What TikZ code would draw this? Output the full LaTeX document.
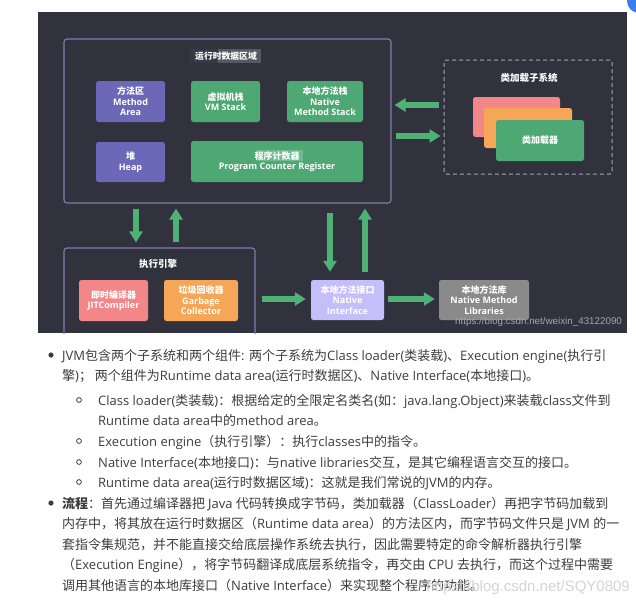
\documentclass[tikz,border=0pt]{standalone}
\usepackage{fontspec}
\setmainfont{Open Sans}
\newfontfamily\cjkf{Noto Sans CJK SC}
\newfontfamily\latf{Open Sans}
\newfontfamily\wmf{Liberation Sans}
\usetikzlibrary{arrows.meta}
\XeTeXinterchartokenstate=1
\newXeTeXintercharclass\myCJK
\newcount\mycnt
\def\setcjkrange#1#2{\mycnt=#1\relax\loop\XeTeXcharclass\mycnt=\myCJK\relax\ifnum\mycnt<#2\relax\advance\mycnt by 1\repeat}
\setcjkrange{"4E00}{"9FFF}
\setcjkrange{"3000}{"303F}
\setcjkrange{"FF00}{"FFEF}
\XeTeXinterchartoks 0 \myCJK = {\cjkf}
\XeTeXinterchartoks 4095 \myCJK = {\cjkf}
\XeTeXinterchartoks \myCJK 0 = {\latf}
\XeTeXinterchartoks 4095 0 = {\latf}
\definecolor{bgc}{RGB}{49,50,62}
\definecolor{framec}{RGB}{128,126,172}
\definecolor{purp}{RGB}{108,104,184}
\definecolor{grn}{RGB}{78,168,115}
\definecolor{arrc}{RGB}{78,178,118}
\definecolor{pinkc}{RGB}{242,134,136}
\definecolor{orac}{RGB}{245,166,87}
\definecolor{lav}{RGB}{196,190,250}
\definecolor{grayc}{RGB}{138,138,138}
\definecolor{dashc}{RGB}{165,165,175}
\definecolor{txtc}{RGB}{60,60,60}
\definecolor{wmc}{RGB}{165,165,172}
\definecolor{wm2}{RGB}{212,212,212}
\definecolor{bluec}{RGB}{60,125,235}
\definecolor{hl1}{RGB}{56,57,70}
\definecolor{hl2}{RGB}{88,88,98}
\definecolor{hl3}{RGB}{112,186,144}
\begin{document}
\begin{tikzpicture}[x=1pt,y=-1pt,
  lbl/.style={font=\bfseries\fontsize{9}{10.5}\selectfont, text=white, align=center, inner sep=0pt},
  boxn/.style={lbl, rounded corners=2.5pt},
  fat/.style={draw=arrc, line width=6pt, -{Triangle[width=13pt,length=11pt]}},
  body/.style={font=\fontsize{13}{15}\selectfont, text=txtc, inner sep=0pt, anchor=base west},
  ttl/.style={font=\bfseries\fontsize{9.5}{11}\selectfont, text=white, inner sep=0pt},
  framebox/.style={draw=framec, line width=1.1pt, rounded corners=3pt}]
\useasboundingbox (0,0) rectangle (636,603);
\fill[bluec] (639,1) circle (12pt);
\fill[bgc] (38,12) rectangle (627,333);
% runtime data area
\node[framebox, minimum width=327, minimum height=164] (rda) at (227.5,121) {};
\fill[hl1] (190,49) rectangle (218,63);
\fill[hl2] (218,49) rectangle (261,63);
\node[ttl, font=\bfseries\fontsize{8.8}{10}\selectfont] (rdat) at (226,56) {运行时数据区域};
\node[boxn, fill=purp, minimum width=69, minimum height=41] (ma) at (130.5,101.5) {方法区\\Method\\Area};
\node[boxn, fill=grn, minimum width=69, minimum height=41] (vms) at (225.5,101.5) {虚拟机栈\\VM Stack};
\node[boxn, fill=grn, minimum width=76, minimum height=41] (nms) at (325,101.5) {本地方法栈\\Native\\Method Stack};
\node[boxn, fill=purp, minimum width=69, minimum height=40] (heap) at (130.5,162) {堆\\Heap};
\node[boxn, fill=grn, minimum width=172, minimum height=41] (pcr) at (277,161.5) {};
\fill[hl3] (257,150) rectangle (303,161);
\node[lbl] (pcrl) at (pcr.center) {程序计数器\\Program Counter Register};
% execution engine (clipped by background)
\begin{scope}
\clip (38,12) rectangle (627,333);
\node[framebox, minimum width=191, minimum height=100] (ee) at (159.5,298) {};
\end{scope}
\node[ttl] (eet) at (158,264) {执行引擎};
\node[boxn, fill=pinkc, minimum width=69, minimum height=41] (jit) at (113.5,300.5) {即时编译器\\JITCompiler};
\node[boxn, fill=orac, minimum width=74, minimum height=41] (gc) at (201,300.5) {垃圾回收器\\Garbage\\Collector};
\node[boxn, fill=lav, minimum width=73, minimum height=40] (ni) at (347.5,300) {本地方法接口\\Native\\Interface};
\node[boxn, fill=grayc, minimum width=90, minimum height=40] (lib) at (484,300) {本地方法库\\Native Method\\Libraries};
% class loader subsystem
\node[draw=dashc, line width=1pt, dash pattern=on 4pt off 3pt, rounded corners=2pt, minimum width=168, minimum height=114] (cls) at (528,117) {};
\node[ttl] (clst) at (529,78) {类加载子系统};
\node[boxn, fill=pinkc, minimum width=87, minimum height=40] (c1) at (516.5,117) {};
\node[boxn, fill=orac, minimum width=88, minimum height=40] (c2) at (528,128) {};
\node[boxn, fill=grn, minimum width=88, minimum height=41] (c3) at (540,140.5) {类加载器};
% arrows
\coordinate (xa1) at (136,0);
\coordinate (xa2) at (176,0);
\coordinate (xa3) at (330,0);
\coordinate (xa4) at (365,0);
\coordinate (ya5) at (0,299);
\coordinate (ya7) at (0,105);
\coordinate (ya8) at (0,136);
\draw[fat, shorten <=5pt, shorten >=5pt] (rda.south -| xa1) -- (ee.north -| xa1);
\draw[fat, shorten <=5pt, shorten >=5pt] (ee.north -| xa2) -- (rda.south -| xa2);
\draw[fat, shorten <=9pt, shorten >=8pt] (rda.south -| xa3) -- (ni.north -| xa3);
\draw[fat, shorten <=8pt, shorten >=5pt] (ni.north -| xa4) -- (rda.south -| xa4);
\draw[fat, shorten <=6pt, shorten >=5pt] (ee.east |- ya5) -- (ni.west |- ya5);
\draw[fat, shorten <=4pt, shorten >=4pt] (ni.east |- ya5) -- (lib.west |- ya5);
\draw[fat, shorten <=5pt, shorten >=3pt] (cls.west |- ya7) -- (rda.east |- ya7);
\draw[fat, shorten <=4pt, shorten >=3pt] (rda.east |- ya8) -- (cls.west |- ya8);
\node[anchor=west, inner sep=0pt, text=wmc, font={\XeTeXinterchartokenstate=0 \wmf\fontsize{9.8}{11}\selectfont}] (wm1) at (455,322) {https://blog.csdn.net/weixin\_43122090};
% text
\fill[txtc] (51,355) circle (2.6pt);
\node[body] (l1) at (62,360) {JVM包含两个子系统和两个组件: 两个子系统为Class loader(类装载)、Execution engine(执行引};
\node[body] (l2) at (62,380) {擎)； 两个组件为Runtime data area(运行时数据区)、Native Interface(本地接口)。};
\draw[txtc, line width=0.8pt] (79,400) circle (2.4pt);
\node[body] (s1) at (98,405) {Class loader(类装载)：根据给定的全限定名类名(如：java.lang.Object)来装载class文件到};
\node[body] (s1b) at (98,425) {Runtime data area中的method area。};
\draw[txtc, line width=0.8pt] (79,441) circle (2.4pt);
\node[body] (s2) at (98,446) {Execution engine（执行引擎）：执行classes中的指令。};
\draw[txtc, line width=0.8pt] (79,462) circle (2.4pt);
\node[body] (s3) at (98,467) {Native Interface(本地接口)：与native libraries交互，是其它编程语言交互的接口。};
\draw[txtc, line width=0.8pt] (79,482) circle (2.4pt);
\node[body] (s4) at (98,487) {Runtime data area(运行时数据区域)：这就是我们常说的JVM的内存。};
\fill[txtc] (51,503) circle (2.6pt);
\node[body] (b1) at (62,508) {{\bfseries 流程}：首先通过编译器把 Java 代码转换成字节码，类加载器（ClassLoader）再把字节码加载到};
\node[body] (b2) at (62,528.5) {内存中，将其放在运行时数据区（Runtime data area）的方法区内，而字节码文件只是 JVM 的一};
\node[body] (b3) at (62,549) {套指令集规范，并不能直接交给底层操作系统去执行，因此需要特定的命令解析器执行引擎};
\node[body] (b4) at (62,569.5) {（Execution Engine），将字节码翻译成底层系统指令，再交由 CPU 去执行，而这个过程中需要};
\node[body] (b5) at (62,590) {调用其他语言的本地库接口（Native Interface）来实现整个程序的功能。};
\node[anchor=base east, inner sep=0pt, text=wm2, font={\XeTeXinterchartokenstate=0 \wmf\fontsize{15}{17}\selectfont}] (wm2n) at (630,591) {https://blog.csdn.net/SQY0809};
\end{tikzpicture}
\end{document}
